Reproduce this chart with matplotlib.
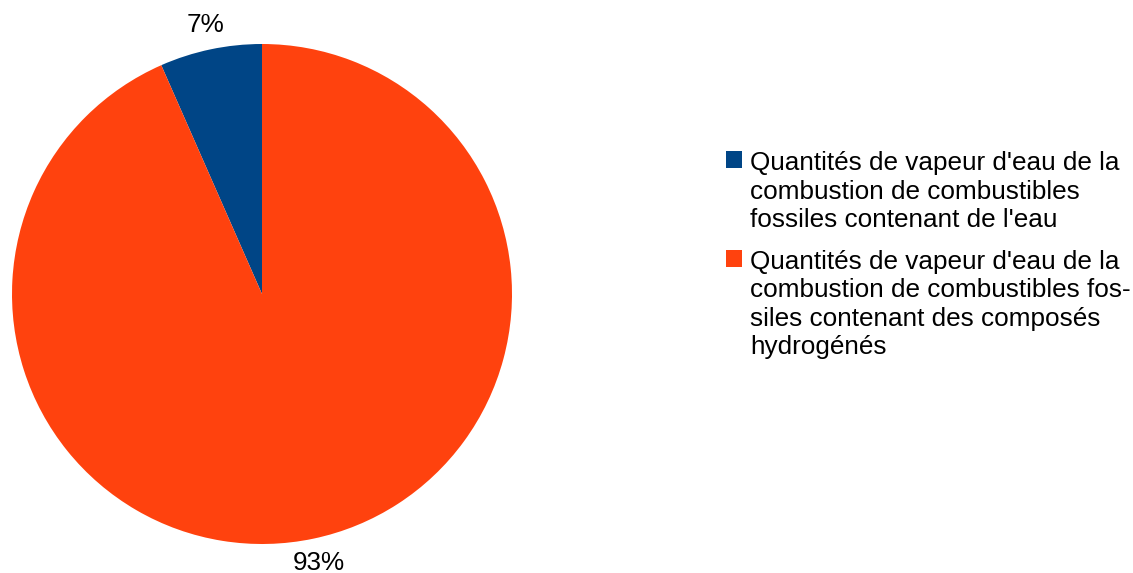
import matplotlib
matplotlib.use("Agg")
import matplotlib.pyplot as plt

labels = [
    "Quantités de vapeur d'eau de la\ncombustion de combustibles\nfossiles contenant de l'eau",
    "Quantités de vapeur d'eau de la\ncombustion de combustibles fos-\nsiles contenant des composés\nhydrogénés",
]
values = [6.6, 93.4]
colors = ["#004586", "#ff420e"]

plt.rcParams['font.family'] = ['Liberation Sans', 'DejaVu Sans']

W, H = 1133, 573
FS = 18.8
fig = plt.figure(figsize=(W / 100, H / 100), dpi=100)
ax = fig.add_axes([0, 0, 1, 1])

wedges, texts, autotexts = ax.pie(values, colors=colors, startangle=90, counterclock=True,
                                  center=(262, H - 294), radius=250,
                                  autopct='%.0f%%', pctdistance=1.1,
                                  textprops=dict(fontsize=FS, color='black'),
                                  frame=True)
ax.set_xlim(0, W)
ax.set_ylim(0, H)
ax.set_aspect('equal')
ax.axis('off')

leg = ax.legend(wedges, labels, loc='upper left',
                bbox_to_anchor=(726 / W, 1 - 151 / H), bbox_transform=fig.transFigure,
                frameon=False, fontsize=FS, handlelength=0.62, handleheight=0.62,
                handletextpad=0.31, labelspacing=0.67, borderpad=0, borderaxespad=0)
for t in leg.get_texts():
    t.set_linespacing(1.24)
for col in leg._legend_handle_box.get_children():
    for item in col.get_children():
        item.align = 'top'

fig.savefig("out.png", dpi=100)
